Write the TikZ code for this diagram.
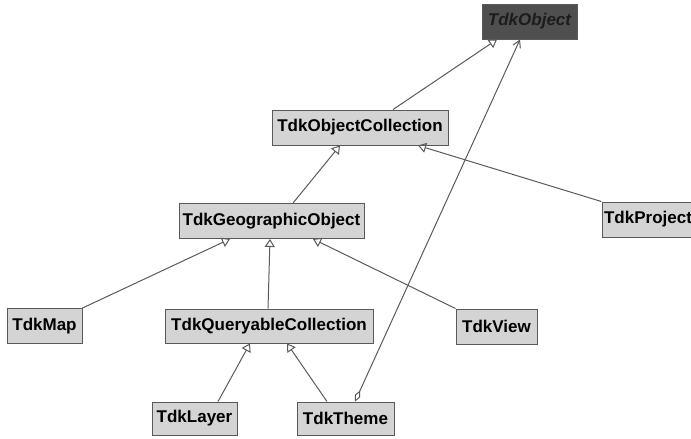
\documentclass[tikz,border=0pt]{standalone}
\usepackage{fontspec}
\setmainfont{Liberation Sans}
\usetikzlibrary{arrows.meta}
\definecolor{boxfill}{HTML}{D4D4D4}
\definecolor{boxline}{HTML}{5A5A5A}
\definecolor{rootfill}{HTML}{4F4F4F}
\definecolor{rootText}{HTML}{1C1C1C}
\begin{document}
\begin{tikzpicture}[x=1pt, y=-1pt,
    cls/.style={draw=boxline, fill=boxfill, line width=0.9pt, inner sep=0pt,
        minimum height=35pt, font=\fontsize{17}{17}\selectfont\bfseries},
    root/.style={cls, fill=rootfill, text=rootText, font=\fontsize{17}{17}\selectfont\bfseries\itshape},
    gen/.style={draw=boxline, line width=1pt, -{Triangle[open, width=10pt, length=8pt]}},
    assoc/.style={draw=boxline, line width=1pt,
        {Diamond[open, width=6pt, length=12pt]}-{Straight Barb[width=8pt, length=7pt]}}]
    \useasboundingbox (0,0) rectangle (691,439);

    % Classes
    \node[root, minimum width=95pt]  (obj)   at (529.5,21.5) {TdkObject};
    \node[cls, minimum width=176pt]  (coll)  at (360,127.5)  {TdkObjectCollection};
    \node[cls, minimum width=185pt]  (geo)   at (271.5,221)  {TdkGeographicObject};
    \node[cls, minimum width=92pt]   (proj)  at (648,219.5)  {TdkProject};
    \node[cls, minimum width=75pt]   (map)   at (44.5,326)   {TdkMap};
    \node[cls, minimum width=208pt, minimum height=34pt] (query) at (269,326) {TdkQueryableCollection};
    \node[cls, minimum width=81pt]   (view)  at (496.5,326.5) {TdkView};
    \node[cls, minimum width=85pt, minimum height=33pt] (layer) at (194.5,418.5) {TdkLayer};
    \node[cls, minimum width=97pt, minimum height=33pt] (theme) at (345.5,418.5) {TdkTheme};

    % Generalizations
    \draw[gen] ([xshift=33pt]coll.north) -- ([xshift=-32.5pt]obj.south);
    \draw[gen] ([xshift=21.5pt]geo.north) -- ([xshift=-20pt]coll.south);
    \draw[gen] (proj.north west) -- ([xshift=58pt]coll.south);
    \draw[gen] (map.north east) -- ([xshift=-41.5pt]geo.south);
    \draw[gen] ([xshift=-1pt]query.north) -- ([xshift=-1.5pt]geo.south);
    \draw[gen] (view.north west) -- ([xshift=41.5pt]geo.south);
    \draw[gen] ([xshift=23.5pt]layer.north) -- ([xshift=-19pt]query.south);
    \draw[gen] ([xshift=-18.5pt]theme.north) -- ([xshift=18pt]query.south);

    % Aggregation
    \draw[assoc] ([xshift=9.5pt]theme.north) -- ([xshift=-9.5pt]obj.south);
\end{tikzpicture}
\end{document}
